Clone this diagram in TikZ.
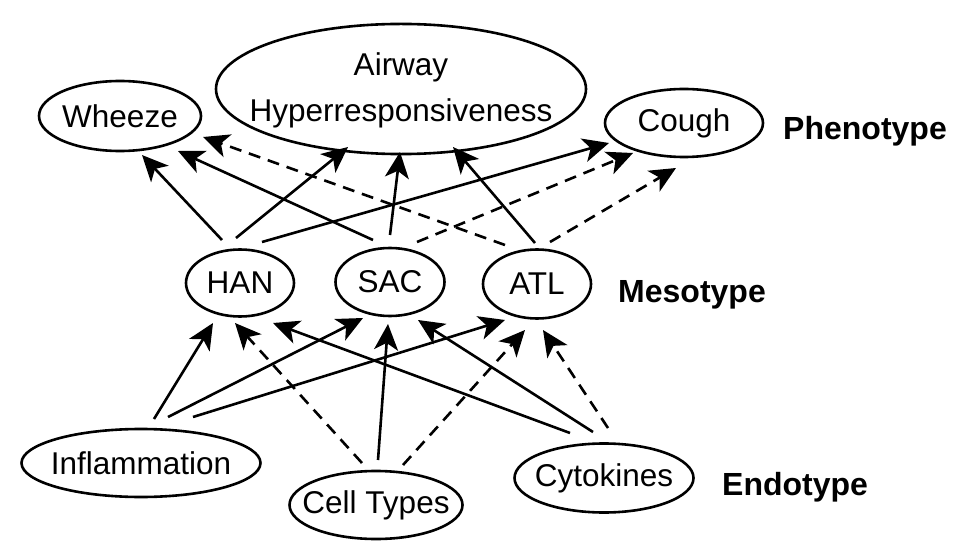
\documentclass[tikz,border=0pt]{standalone}
\usepackage{fontspec}
\setmainfont{Liberation Sans}
\usetikzlibrary{shapes.geometric,arrows.meta}
\newcommand\zbox[1]{\makebox[0pt]{#1}}
\begin{document}
\begin{tikzpicture}[x=1pt,y=-1pt,
  ell/.style={ellipse,draw,line width=2.6pt,inner sep=0pt,
    font=\fontsize{31.5}{46}\selectfont},
  lvl/.style={font=\fontsize{32}{38}\selectfont\bfseries,anchor=base west,inner sep=0pt},
  arr/.style={line width=2.6pt,-{Stealth[length=26pt,width=24pt,inset=7pt]}},
  darr/.style={arr,dash pattern=on 12pt off 8pt}]
\useasboundingbox (0,0) rectangle (958,556);
% phenotype
\node[ell,minimum width=162pt,minimum height=70pt] (Wheeze) at (120,116) {\zbox{Wheeze}};
\node[ell,minimum width=370pt,minimum height=113pt] (Airway) at (401,89)
  {\zbox{\begin{tabular}{@{}c@{}}Airway\\Hyperresponsiveness\end{tabular}}};
\node[ell,minimum width=158pt,minimum height=68pt] (Cough) at (684,123) {\zbox{Cough}};
% mesotype
\node[ell,minimum width=108pt,minimum height=67pt] (HAN) at (240,283) {\zbox{HAN}};
\node[ell,minimum width=109pt,minimum height=68pt] (SAC) at (390,282) {\zbox{SAC}};
\node[ell,minimum width=108pt,minimum height=69pt] (ATL) at (537,284) {\zbox{ATL}};
% endotype
\node[ell,minimum width=239pt,minimum height=68pt] (Infl) at (141,463) {\zbox{Inflammation}};
\node[ell,minimum width=173pt,minimum height=68pt] (Cell) at (376,505) {\zbox{Cell Types}};
\node[ell,minimum width=179pt,minimum height=69pt] (Cyto) at (604,478) {\zbox{Cytokines}};
% level labels
\node[lvl] (Pheno) at (783,140) {Phenotype};
\node[lvl] (Meso) at (618,302) {Mesotype};
\node[lvl] (Endo) at (722,495) {Endotype};
% mesotype -> phenotype
\draw[arr]  ([shift={(-18,-43)}]HAN.center) -- ([shift={(22,39)}]Wheeze.center);
\draw[arr]  ([shift={(-17,-42)}]SAC.center) -- ([shift={(58,35)}]Wheeze.center);
\draw[darr] ([shift={(-32,-39)}]ATL.center) -- ([shift={(83,21)}]Wheeze.center);
\draw[arr]  ([shift={(-4,-45)}]HAN.center) -- ([shift={(-53,58)}]Airway.center);
\draw[arr]  ([shift={(0,-47)}]SAC.center) -- ([shift={(-1,63)}]Airway.center);
\draw[arr]  ([shift={(-2,-41)}]ATL.center) -- ([shift={(52,58)}]Airway.center);
\draw[arr]  ([shift={(22,-41)}]HAN.center) -- ([shift={(-75,20)}]Cough.center);
\draw[darr] ([shift={(27,-40)}]SAC.center) -- ([shift={(-51,30)}]Cough.center);
\draw[darr] ([shift={(13,-42)}]ATL.center) -- ([shift={(-8,45)}]Cough.center);
% endotype -> mesotype
\draw[arr]  ([shift={(13,-44)}]Infl.center) -- ([shift={(-27,40)}]HAN.center);
\draw[arr]  ([shift={(27,-46)}]Infl.center) -- ([shift={(-27,36)}]SAC.center);
\draw[arr]  ([shift={(52,-46)}]Infl.center) -- ([shift={(-32,36)}]ATL.center);
\draw[darr] ([shift={(-14,-42)}]Cell.center) -- ([shift={(-5,40)}]HAN.center);
\draw[arr]  ([shift={(2,-45)}]Cell.center) -- ([shift={(-2,42)}]SAC.center);
\draw[darr] ([shift={(27,-40)}]Cell.center) -- ([shift={(-12,46)}]ATL.center);
\draw[arr]  ([shift={(-34,-45)}]Cyto.center) -- ([shift={(33,40)}]HAN.center);
\draw[arr]  ([shift={(-11,-46)}]Cyto.center) -- ([shift={(28,38)}]SAC.center);
\draw[darr] ([shift={(4,-50)}]Cyto.center) -- ([shift={(6,46)}]ATL.center);
\end{tikzpicture}
\end{document}
